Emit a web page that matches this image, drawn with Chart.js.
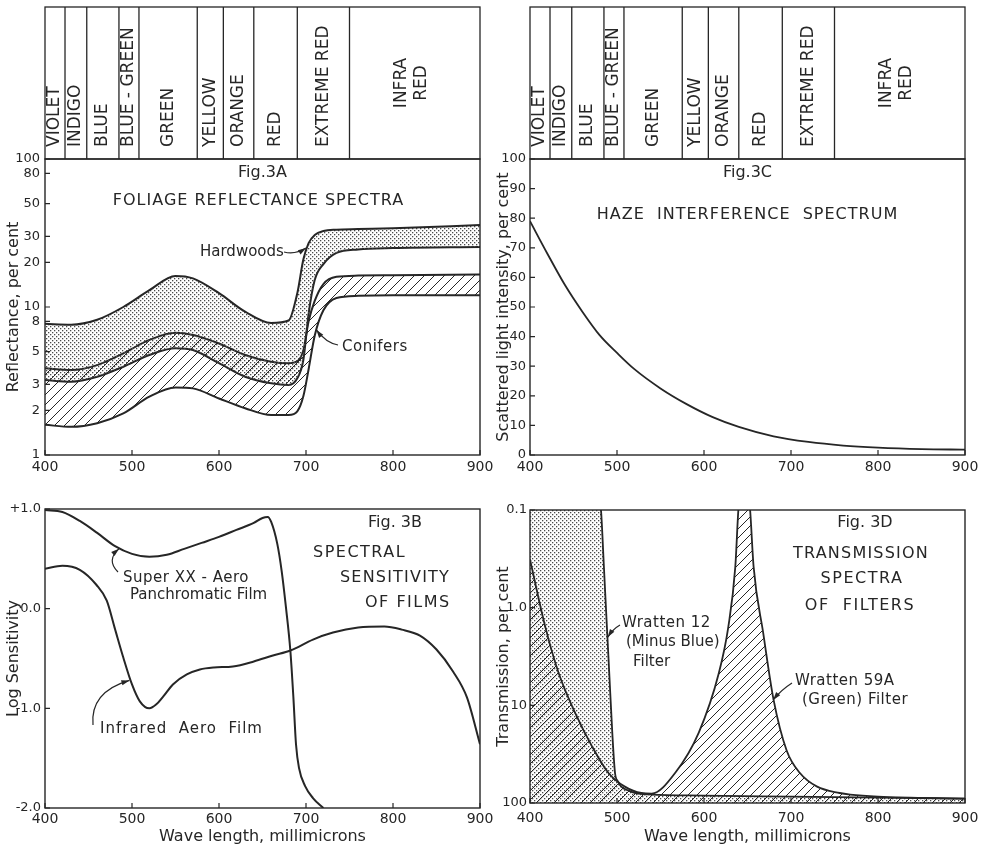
<!DOCTYPE html>
<html>
<head>
<meta charset="utf-8">
<title>Fig. 3 - spectra</title>
<script src="https://cdn.jsdelivr.net/npm/chart.js@4"></script>
<style>
  body { margin: 0; background: #fff; }
  #page { position: relative; width: 986px; height: 846px; }
  canvas { position: absolute; }
</style>
</head>
<body>
<div id="page">
  <canvas id="figA" width="500" height="480" style="left:0;top:0"></canvas>
  <canvas id="figC" width="496" height="480" style="left:490px;top:0"></canvas>
  <canvas id="figB" width="500" height="366" style="left:0;top:480px"></canvas>
  <canvas id="figD" width="496" height="366" style="left:490px;top:480px"></canvas>
</div>
<script>
// colour bands across the top of 3A and 3C
const bandEdges = [400, 423, 448, 485, 508, 575, 605, 640, 690, 750, 900];
const bandNames = ['VIOLET', 'INDIGO', 'BLUE', 'BLUE - GREEN', 'GREEN', 'YELLOW', 'ORANGE', 'RED', 'EXTREME RED', ['INFRA', 'RED']];

// Fig 3A - foliage reflectance, per cent (log)
const waveA = [400, 430, 460, 490, 520, 550, 570, 600, 630, 660, 680, 690, 697, 703, 710, 720, 735, 760, 800, 900];
const hardwoodsTop = [7.7, 7.6, 8.2, 10.0, 13.0, 16.2, 15.6, 12.4, 9.3, 7.8, 8.1, 12.4, 21, 27, 30.6, 32.6, 33.3, 33.6, 34.0, 35.8];
const hardwoodsBottom = [3.21, 3.13, 3.38, 3.95, 4.74, 5.26, 5.12, 4.17, 3.38, 3.05, 2.97, 3.3, 4.4, 9.0, 15.2, 19.5, 23.2, 24.5, 25.0, 25.4];
const conifersTop = [3.85, 3.75, 4.05, 4.86, 5.99, 6.7, 6.47, 5.67, 4.74, 4.27, 4.17, 4.3, 5.1, 8.0, 11.0, 14.3, 16.0, 16.3, 16.4, 16.6];
const conifersBottom = [1.6, 1.55, 1.64, 1.91, 2.48, 2.86, 2.82, 2.41, 2.07, 1.86, 1.86, 1.97, 2.5, 3.8, 6.4, 9.5, 11.5, 11.9, 12.0, 12.0];
const ticksA = [1, 2, 3, 5, 8, 10, 20, 30, 50, 80, 100];

// Fig 3C - haze
const waveC = [400, 420, 440, 460, 480, 500, 520, 550, 580, 610, 640, 680, 720, 760, 800, 850, 900];
const haze = [79, 68, 57.5, 48.5, 40.5, 34.5, 29, 22.5, 17.2, 12.8, 9.5, 6.3, 4.4, 3.2, 2.5, 2.0, 1.8];

// Fig 3B - log sensitivity of films
const waveSX = [400, 420, 440, 460, 480, 500, 520, 540, 560, 580, 600, 620, 640, 650, 656, 660, 667, 672, 677, 682, 685.5, 688.5, 692, 699, 708, 720];
const superXX = [0.99, 0.97, 0.88, 0.76, 0.63, 0.55, 0.52, 0.54, 0.60, 0.66, 0.72, 0.79, 0.86, 0.91, 0.92, 0.87, 0.65, 0.38, 0.01, -0.42, -0.89, -1.36, -1.6, -1.78, -1.9, -2.0];
const waveIR = [400, 420, 440, 459, 471, 480, 490, 500, 509, 520, 528, 536, 547, 563, 578, 594, 616, 640, 662, 682, 708, 731, 760, 790, 810, 831, 850, 869, 885, 900];
const infrared = [0.40, 0.43, 0.39, 0.24, 0.08, -0.19, -0.49, -0.76, -0.93, -1.0, -0.96, -0.88, -0.76, -0.66, -0.61, -0.59, -0.58, -0.53, -0.47, -0.42, -0.31, -0.24, -0.19, -0.18, -0.21, -0.27, -0.41, -0.63, -0.89, -1.36];
const ticksB = [-2, -1, 0, 1];

// Fig 3D - filter transmission, per cent (log, 0.1 at top); below 0.1 is off the chart
const waveW12 = [400, 470, 481.6, 485, 488, 491, 494.6, 497.7, 501, 505, 512, 521, 540, 600, 700, 800, 900];
const wratten12 = [0.02, 0.02, 0.1, 0.39, 1.34, 4.5, 19.2, 49, 60, 68, 74, 79, 82, 84, 86, 88, 90];
const wave59A = [400, 417, 433, 452, 471, 490, 509, 528, 540, 567, 594, 617, 628, 636, 639.5, 646, 653, 657, 668, 680, 695, 710, 730, 756, 768, 800, 900];
const wratten59A = [0.32, 1.5, 4.7, 12, 26, 49, 68, 79, 80, 49, 19, 4.7, 1.56, 0.38, 0.1, 0.03, 0.1, 0.38, 1.8, 8.8, 29, 49, 68, 79, 82, 86, 90];
const ticksD = [0.1, 1, 10, 100];

const INK = '#262626';
const FONT = "'DejaVu Sans', sans-serif";
Chart.defaults.font.family = FONT;
Chart.defaults.color = INK;
Chart.defaults.animation = false;

function pattern(size, paint) {
  const c = document.createElement('canvas');
  c.width = c.height = size;
  const g = c.getContext('2d');
  paint(g, size);
  return g.createPattern(c, 'repeat');
}
const dots = pattern(4, g => {
  g.fillStyle = '#4a4a4a';
  g.fillRect(0, 0, 1.3, 1.3);
  g.fillRect(2, 2, 1.3, 1.3);
});
function hatch(size) {
  return pattern(size, (g, s) => {
    g.strokeStyle = INK;
    g.lineWidth = 1;
    g.beginPath();
    g.moveTo(0, s); g.lineTo(s, 0);
    g.moveTo(-1, 1); g.lineTo(1, -1);
    g.moveTo(s - 1, s + 1); g.lineTo(s + 1, s - 1);
    g.stroke();
  });
}

const pts = (xs, ys) => xs.map((x, i) => ({x: x, y: ys[i]}));
function curve(xs, ys, extra) {
  return Object.assign({
    data: pts(xs, ys), borderColor: INK, borderWidth: 2, pointRadius: 0,
    fill: false, cubicInterpolationMode: 'monotone', clip: 0
  }, extra);
}

function xAxis(height, pad, title) {
  return {
    type: 'linear', min: 400, max: 900,
    grid: {display: false, drawTicks: false}, border: {display: false},
    ticks: {stepSize: 100, padding: pad, font: {size: 14}, maxRotation: 0, autoSkip: false},
    title: title ? {display: true, text: title, font: {size: 16}, padding: 0} : {display: false},
    afterFit: s => { s.height = height; s.paddingLeft = 0; s.paddingRight = 0; }
  };
}
function yAxis(width, title, extra) {
  return Object.assign({
    grid: {display: false, drawTicks: false}, border: {display: false},
    title: {display: true, text: title, font: {size: 16}, padding: {top: 4, bottom: 0}},
    afterFit: s => { s.width = width; }
  }, extra);
}

// frame round the plot, with short inward tick marks
const frame = {
  id: 'frame',
  afterDraw(chart) {
    const {ctx, chartArea: a, scales: {x, y}} = chart;
    ctx.save();
    ctx.strokeStyle = INK;
    ctx.lineWidth = 1.4;
    ctx.strokeRect(a.left, a.top, a.right - a.left, a.bottom - a.top);
    ctx.lineWidth = 1.2;
    ctx.beginPath();
    x.ticks.forEach(t => {
      const px = x.getPixelForValue(t.value);
      ctx.moveTo(px, a.bottom); ctx.lineTo(px, a.bottom - 5);
    });
    y.ticks.forEach(t => {
      const py = y.getPixelForValue(t.value);
      ctx.moveTo(a.left, py); ctx.lineTo(a.left + 5, py);
    });
    ctx.stroke();
    ctx.restore();
  }
};

const bands = {
  id: 'bands',
  afterDraw(chart) {
    const {ctx, chartArea: a, scales: {x}} = chart;
    const top = 7;
    ctx.save();
    ctx.strokeStyle = INK;
    ctx.lineWidth = 1.3;
    ctx.strokeRect(a.left, top, a.right - a.left, a.top - top);
    ctx.beginPath();
    bandEdges.slice(1, -1).forEach(w => {
      const px = x.getPixelForValue(w);
      ctx.moveTo(px, top); ctx.lineTo(px, a.top);
    });
    ctx.stroke();
    ctx.fillStyle = INK;
    ctx.font = '17px ' + FONT;
    bandNames.forEach((name, i) => {
      const cx = (x.getPixelForValue(bandEdges[i]) + x.getPixelForValue(bandEdges[i + 1])) / 2;
      ctx.save();
      ctx.textBaseline = 'middle';
      if (Array.isArray(name)) {
        ctx.translate(cx - 3, (top + a.top) / 2);
        ctx.rotate(-Math.PI / 2);
        ctx.textAlign = 'center';
        name.forEach((line, j) => ctx.fillText(line, 0, (j - (name.length - 1) / 2) * 20));
      } else {
        ctx.translate(cx, a.top - 12);
        ctx.rotate(-Math.PI / 2);
        ctx.textAlign = 'left';
        ctx.fillText(name, 0, 0);
      }
      ctx.restore();
    });
    ctx.restore();
  }
};

function say(ctx, text, x, y, size, align, spacing) {
  ctx.font = size + 'px ' + FONT;
  ctx.letterSpacing = (spacing || 0) + 'px';
  ctx.textAlign = align || 'left';
  ctx.textBaseline = 'middle';
  ctx.fillText(text, x, y);
}
function arrow(ctx, x0, y0, cx, cy, x1, y1) {
  ctx.lineWidth = 1.2;
  ctx.beginPath();
  ctx.moveTo(x0, y0);
  ctx.quadraticCurveTo(cx, cy, x1, y1);
  ctx.stroke();
  const ang = Math.atan2(y1 - cy, x1 - cx), L = 8, W = 2.6;
  ctx.beginPath();
  ctx.moveTo(x1, y1);
  ctx.lineTo(x1 - L * Math.cos(ang) + W * Math.sin(ang), y1 - L * Math.sin(ang) - W * Math.cos(ang));
  ctx.lineTo(x1 - L * Math.cos(ang) - W * Math.sin(ang), y1 - L * Math.sin(ang) + W * Math.cos(ang));
  ctx.closePath();
  ctx.fill();
}
function notes(draw) {
  return {
    id: 'notes',
    afterDraw(chart) {
      const {ctx, chartArea: a, scales: {x, y}} = chart;
      ctx.save();
      ctx.fillStyle = INK;
      ctx.strokeStyle = INK;
      draw(ctx, a, (w, v) => [x.getPixelForValue(w), y.getPixelForValue(v)]);
      ctx.restore();
    }
  };
}

const base = {
  responsive: false,
  events: [],
  plugins: {legend: {display: false}, tooltip: {enabled: false}}
};

// ---- Fig 3A
new Chart(document.getElementById('figA'), {
  type: 'line',
  data: {
    datasets: [
      curve(waveA, hardwoodsTop, {fill: 1, backgroundColor: dots}),
      curve(waveA, hardwoodsBottom),
      curve(waveA, conifersTop, {fill: 3, backgroundColor: hatch(10)}),
      curve(waveA, conifersBottom)
    ]
  },
  options: Object.assign({}, base, {
    layout: {padding: {top: 159, right: 20, left: 0, bottom: 0}},
    scales: {
      x: xAxis(25, 4),
      y: yAxis(45, 'Reflectance, per cent', {
        type: 'logarithmic', min: 1, max: 100,
        afterBuildTicks: s => { s.ticks = ticksA.map(v => ({value: v})); },
        ticks: {padding: 5, font: {size: 13}, autoSkip: false, callback: v => String(v)}
      })
    }
  }),
  plugins: [frame, bands, notes((ctx, a, at) => {
    const mid = (a.left + a.right) / 2;
    say(ctx, 'Fig.3A', mid, a.top + 14, 16, 'center');
    say(ctx, 'FOLIAGE REFLECTANCE SPECTRA', mid - 4, a.top + 42, 16, 'center', 1);
    say(ctx, 'Hardwoods', 200, 252, 15);
    let [tx, ty] = at(700, 25);
    arrow(ctx, 284, 252, 295, 255, tx, ty);
    say(ctx, 'Conifers', 342, 347, 15, 'left', 0.5);
    [tx, ty] = at(712, 7);
    arrow(ctx, 338, 345, 326, 343, tx, ty);
  })]
});

// ---- Fig 3C
new Chart(document.getElementById('figC'), {
  type: 'line',
  data: {datasets: [curve(waveC, haze, {borderWidth: 1.8})]},
  options: Object.assign({}, base, {
    layout: {padding: {top: 159, right: 21, left: 0, bottom: 0}},
    scales: {
      x: xAxis(25, 4),
      y: yAxis(40, 'Scattered light intensity, per cent', {
        type: 'linear', min: 0, max: 100,
        ticks: {stepSize: 10, padding: 4, font: {size: 13}, autoSkip: false}
      })
    }
  }),
  plugins: [frame, bands, notes((ctx, a) => {
    const mid = (a.left + a.right) / 2;
    say(ctx, 'Fig.3C', mid, a.top + 14, 16, 'center');
    say(ctx, 'HAZE  INTERFERENCE  SPECTRUM', mid, a.top + 56, 16, 'center', 1);
  })]
});

// ---- Fig 3B
new Chart(document.getElementById('figB'), {
  type: 'line',
  data: {
    datasets: [
      curve(waveSX, superXX),
      curve(waveIR, infrared)
    ]
  },
  options: Object.assign({}, base, {
    layout: {padding: {top: 29, right: 20, left: 0, bottom: 0}},
    scales: {
      x: xAxis(38, 3, 'Wave length, millimicrons'),
      y: yAxis(45, 'Log Sensitivity', {
        type: 'linear', min: -2, max: 1,
        afterBuildTicks: s => { s.ticks = ticksB.map(v => ({value: v})); },
        ticks: {padding: 4, font: {size: 13}, autoSkip: false,
          callback: v => (v > 0 ? '+' : '') + Number(v).toFixed(1)}
      })
    }
  }),
  plugins: [frame, notes((ctx, a, at) => {
    say(ctx, 'Fig. 3B', 395, 43, 16, 'center');
    say(ctx, 'SPECTRAL', 313, 73, 16, 'left', 1.5);
    say(ctx, 'SENSITIVITY', 340, 98, 16, 'left', 1.2);
    say(ctx, 'OF FILMS', 365, 123, 16, 'left', 1.5);
    say(ctx, 'Super XX - Aero', 123, 98, 15, 'left', 0.5);
    say(ctx, 'Panchromatic Film', 130, 115, 15);
    let [tx, ty] = at(485, 0.6);
    arrow(ctx, 118, 92, 106, 80, tx, ty);
    say(ctx, 'Infrared  Aero  Film', 100, 249, 15, 'left', 1);
    [tx, ty] = at(497, -0.72);
    arrow(ctx, 93, 245, 90, 212, tx, ty);
  })]
});

// ---- Fig 3D
new Chart(document.getElementById('figD'), {
  type: 'line',
  data: {
    datasets: [
      curve(wave59A, wratten59A, {fill: 'start', backgroundColor: hatch(9), borderWidth: 1.8}),
      curve(waveW12, wratten12, {fill: 'start', backgroundColor: dots, borderWidth: 1.8})
    ]
  },
  options: Object.assign({}, base, {
    layout: {padding: {top: 30, right: 21, left: 0, bottom: 0}},
    scales: {
      x: xAxis(43, 7, 'Wave length, millimicrons'),
      y: yAxis(40, 'Transmission, per cent', {
        type: 'logarithmic', min: 0.1, max: 100, reverse: true,
        afterBuildTicks: s => { s.ticks = ticksD.map(v => ({value: v})); },
        ticks: {padding: 3, font: {size: 13}, autoSkip: false,
          callback: v => (v === 1 ? '1.0' : String(v))}
      })
    }
  }),
  plugins: [frame, notes((ctx, a, at) => {
    say(ctx, 'Fig. 3D', 375, 43, 16, 'center');
    say(ctx, 'TRANSMISSION', 371, 74, 16, 'center', 1.2);
    say(ctx, 'SPECTRA', 372, 99, 16, 'center', 1.5);
    say(ctx, 'OF  FILTERS', 370, 126, 16, 'center', 1.5);
    say(ctx, 'Wratten 12', 132, 143, 15, 'left', 0.5);
    say(ctx, '(Minus Blue)', 136, 162, 15);
    say(ctx, 'Filter', 143, 182, 15);
    let [tx, ty] = at(489.5, 2);
    arrow(ctx, 130, 145, 123, 149, tx, ty);
    say(ctx, 'Wratten 59A', 305, 201, 15, 'left', 0.5);
    say(ctx, '(Green) Filter', 312, 220, 15, 'left', 0.5);
    [tx, ty] = at(679.5, 8.8);
    arrow(ctx, 302, 203, 291, 210, tx, ty);
  })]
});
</script>
</body>
</html>
